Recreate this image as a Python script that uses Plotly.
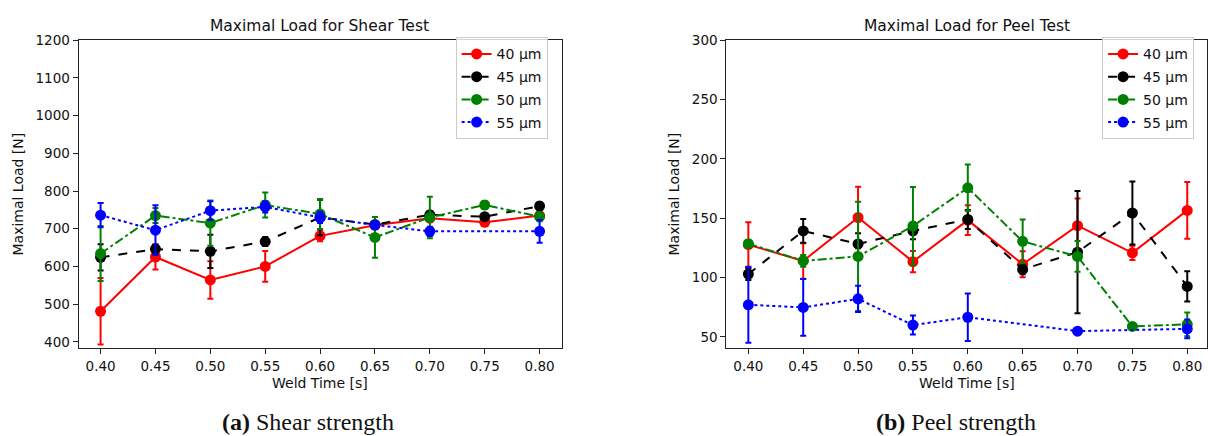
import plotly.graph_objects as go

weld_time = [0.40, 0.45, 0.50, 0.55, 0.60, 0.65, 0.70, 0.75, 0.80]
series_names = ["40 µm", "45 µm", "50 µm", "55 µm"]

# Shear test (maximal load, N)
shear_40 = [481, 625, 564, 600, 681, 709, 728, 717, 735]
shear_40_err = [88, 33, 50, 41, 14, 10, 10, 8, 10]
shear_45 = [624, 646, 640, 666, 730, 711, 737, 732, 760]
shear_45_err = [35, 12, 44, 12, 47, 8, 10, 8, 10]
shear_50 = [634, 735, 715, 763, 739, 677, 730, 763, 732]
shear_50_err = [73, 20, 60, 33, 40, 54, 55, 10, 12]
shear_55 = [736, 696, 748, 758, 730, 710, 693, None, 693]
shear_55_err = [32, 66, 25, 15, 15, 8, 12, None, 30]

# Peel test (maximal load, N)
peel_40 = [127.7, 114, 150.6, 113.4, 148.4, 111.2, 143.7, 120.8, 156.6]
peel_40_err = [19, 15, 26, 9, 12.6, 11, 23, 6, 24]
peel_45 = [102.9, 139.3, 128.3, 139.3, 149, 106.8, 121.4, 154.4, 92.5]
peel_45_err = [5, 10, 9, 7, 8, 4, 51.5, 26.5, 12.8]
peel_50 = [128.5, 114, 117.8, 143.4, 175.6, 130.5, 117.8, 58.8, 60.5]
peel_50_err = [3, 5, 46, 33, 19.6, 18.5, 13, 2, 10]
peel_55 = [77, 74.8, 82, 59.9, 66.5, None, 54.8, None, 56.7]
peel_55_err = [32, 24, 11, 8, 20, None, 1, None, 8]

shear_ticks = [400, 500, 600, 700, 800, 900, 1000, 1100, 1200]
peel_ticks = [50, 100, 150, 200, 250, 300]

colors = ["#ff0000", "#000000", "#008000", "#0000ff"]
dashes = ["solid", "dash", "dashdot", "dot"]

FONT = "DejaVu Sans"
W, H = 1208, 436

fig = go.Figure()

def add_series(ys, errs, idx, xa, ya, legend):
    fig.add_trace(go.Scatter(
        x=weld_time, y=ys, name=series_names[idx],
        mode="lines+markers", connectgaps=True,
        line=dict(color=colors[idx], width=2, dash=dashes[idx]),
        marker=dict(color=colors[idx], size=11),
        error_y=dict(type="data", array=errs, visible=True,
                     color=colors[idx], thickness=2, width=3),
        xaxis=xa, yaxis=ya, legend=legend,
        legendgroup=f"{legend}{idx}",
    ))

for i, (ys, es) in enumerate([(shear_40, shear_40_err), (shear_45, shear_45_err),
                              (shear_50, shear_50_err), (shear_55, shear_55_err)]):
    add_series(ys, es, i, "x", "y", "legend")
for i, (ys, es) in enumerate([(peel_40, peel_40_err), (peel_45, peel_45_err),
                              (peel_50, peel_50_err), (peel_55, peel_55_err)]):
    add_series(ys, es, i, "x2", "y2", "legend2")

ydom = [1 - 347.5 / H, 1 - 33 / H]
axis_common = dict(showgrid=False, zeroline=False, showline=True, mirror=True,
                   linecolor="#222", linewidth=1.2, ticks="outside", ticklen=5,
                   tickcolor="#222", tickfont=dict(family=FONT, size=13.5, color="#111"))

xticks = weld_time
xtext = [f"{v:.2f}" for v in weld_time]

legend_common = dict(xanchor="left", yanchor="top",
                     bgcolor="rgba(255,255,255,0.8)", bordercolor="#ccc", borderwidth=1,
                     font=dict(family=FONT, size=14), tracegroupgap=1.5)

fig.update_layout(
    width=W, height=H,
    margin=dict(l=0, r=0, t=0, b=0),
    paper_bgcolor="white", plot_bgcolor="white",
    font=dict(family=FONT, size=14, color="#111"),
    xaxis=dict(domain=[78.7 / W, 562 / W], range=[0.38, 0.82], anchor="y",
               tickvals=xticks, ticktext=xtext, **axis_common),
    yaxis=dict(domain=ydom, range=[382.6, 1200], anchor="x",
               tickvals=shear_ticks, **axis_common),
    xaxis2=dict(domain=[727 / W, 1.0], range=[0.38, 0.818], anchor="y2",
                tickvals=xticks, ticktext=xtext, **axis_common),
    yaxis2=dict(domain=ydom, range=[40.3, 300], anchor="x2",
                tickvals=peel_ticks, **axis_common),
    legend=dict(x=456 / W, y=1 - 30 / H, **legend_common),
    legend2=dict(x=1103 / W, y=1 - 30 / H, **legend_common),
)

def ann(text, x, y, size, family=FONT, angle=0):
    fig.add_annotation(text=text, x=x / W, y=1 - y / H, xref="paper", yref="paper",
                       showarrow=False, xanchor="center", yanchor="middle",
                       textangle=angle, font=dict(family=family, size=size, color="#111"))

ann("Maximal Load for Shear Test", 320, 18, 15.5)
ann("Maximal Load for Peel Test", 968, 18, 15.5)
ann("Weld Time [s]", 320, 383, 14)
ann("Weld Time [s]", 968, 383, 14)
ann("Maximal Load [N]", 18.5, 190, 14, angle=-90)
ann("Maximal Load [N]", 675, 190, 14, angle=-90)
ann("<b>(a)</b> Shear strength", 308, 423, 24, family="Liberation Serif")
ann("<b>(b)</b> Peel strength", 957, 423, 24, family="Liberation Serif")

fig.write_html(
    "out.html",
    config={"displayModeBar": False},
    post_script="document.body.style.margin='0';document.body.style.overflow='hidden';",
)
